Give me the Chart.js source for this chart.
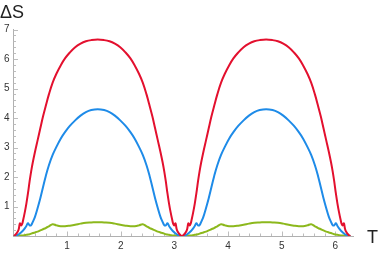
<!DOCTYPE html>
<html><head><meta charset="utf-8">
<script src="https://cdn.jsdelivr.net/npm/chart.js@4.4.1/dist/chart.umd.min.js"></script>
<style>html,body{margin:0;padding:0;background:#fff}#wrap{width:380px;height:254px}</style>
</head><body>
<div id="wrap"><canvas id="c"></canvas></div>
<script>
// valores (T de 0 a 2π)
const tempo=[0,0.04,0.08,0.10,0.12,0.14,0.16,0.18,0.21,0.24,0.27,0.30,0.33,0.36,0.40,0.45,0.50,0.55,0.60,0.66,0.73,0.80,0.88,0.96,1.05,1.15,1.25,1.35,1.45,1.57,
  1.69,1.79,1.89,1.99,2.09,2.18,2.26,2.34,2.41,2.48,2.54,2.59,2.64,2.69,2.74,2.78,2.81,2.84,2.87,2.90,2.93,2.96,2.98,3.00,3.02,3.04,3.06,3.10,3.14,
  3.18,3.22,3.24,3.26,3.28,3.30,3.32,3.35,3.38,3.41,3.44,3.47,3.50,3.54,3.59,3.64,3.69,3.74,3.80,3.87,3.94,4.02,4.10,4.19,4.29,4.39,4.49,4.59,4.71,
  4.83,4.93,5.03,5.13,5.23,5.32,5.40,5.48,5.55,5.62,5.68,5.73,5.78,5.83,5.88,5.92,5.95,5.98,6.01,6.04,6.07,6.10,6.12,6.14,6.16,6.18,6.20,6.24,6.28];
const vermelho=[0,0.05,0.15,0.25,0.43,0.36,0.40,0.54,0.80,1.10,1.45,1.85,2.20,2.50,2.85,3.25,3.65,4.05,4.40,4.80,5.20,5.50,5.78,6.02,6.22,6.40,6.52,6.60,6.64,6.66,
  6.64,6.60,6.52,6.40,6.22,6.02,5.78,5.50,5.20,4.80,4.40,4.05,3.65,3.25,2.85,2.50,2.20,1.85,1.45,1.10,0.80,0.54,0.40,0.36,0.43,0.25,0.15,0.05,0,
  0.05,0.15,0.25,0.43,0.36,0.40,0.54,0.80,1.10,1.45,1.85,2.20,2.50,2.85,3.25,3.65,4.05,4.40,4.80,5.20,5.50,5.78,6.02,6.22,6.40,6.52,6.60,6.64,6.66,
  6.64,6.60,6.52,6.40,6.22,6.02,5.78,5.50,5.20,4.80,4.40,4.05,3.65,3.25,2.85,2.50,2.20,1.85,1.45,1.10,0.80,0.54,0.40,0.36,0.43,0.25,0.15,0.05,0];
const azul=[0,0.01,0.04,0.06,0.09,0.12,0.15,0.19,0.26,0.34,0.43,0.36,0.37,0.48,0.65,0.95,1.28,1.65,2.02,2.40,2.75,3.02,3.30,3.52,3.73,3.92,4.08,4.20,4.27,4.30,
  4.27,4.20,4.08,3.92,3.73,3.52,3.30,3.02,2.75,2.40,2.02,1.65,1.28,0.95,0.65,0.48,0.37,0.36,0.43,0.34,0.26,0.19,0.15,0.12,0.09,0.06,0.04,0.01,0,
  0.01,0.04,0.06,0.09,0.12,0.15,0.19,0.26,0.34,0.43,0.36,0.37,0.48,0.65,0.95,1.28,1.65,2.02,2.40,2.75,3.02,3.30,3.52,3.73,3.92,4.08,4.20,4.27,4.30,
  4.27,4.20,4.08,3.92,3.73,3.52,3.30,3.02,2.75,2.40,2.02,1.65,1.28,0.95,0.65,0.48,0.37,0.36,0.43,0.34,0.26,0.19,0.15,0.12,0.09,0.06,0.04,0.01,0];
const verde=[0,0,0.01,0.01,0.01,0.02,0.02,0.02,0.03,0.04,0.05,0.06,0.08,0.10,0.12,0.15,0.19,0.23,0.27,0.33,0.40,0.36,0.33,0.33,0.35,0.38,0.42,0.45,0.46,0.47,
  0.46,0.45,0.42,0.38,0.35,0.33,0.33,0.36,0.40,0.33,0.27,0.23,0.19,0.15,0.12,0.10,0.08,0.06,0.05,0.04,0.03,0.02,0.02,0.02,0.01,0.01,0.01,0,0,
  0,0.01,0.01,0.01,0.02,0.02,0.02,0.03,0.04,0.05,0.06,0.08,0.10,0.12,0.15,0.19,0.23,0.27,0.33,0.40,0.36,0.33,0.33,0.35,0.38,0.42,0.45,0.46,0.47,
  0.46,0.45,0.42,0.38,0.35,0.33,0.33,0.36,0.40,0.33,0.27,0.23,0.19,0.15,0.12,0.10,0.08,0.06,0.05,0.04,0.03,0.02,0.02,0.02,0.01,0.01,0.01,0,0];
const ticksX=[1,2,3,4,5,6];
const ticksY=[1,2,3,4,5,6,7];

const FONTE="'Liberation Sans', Arial, sans-serif";
const pts=arr=>tempo.map((t,i)=>({x:t,y:arr[i]}));
const serie=(arr,cor)=>({data:pts(arr),borderColor:cor,borderWidth:2,pointRadius:0,fill:false,tension:0.4});

// marcas e rótulos dos eixos, estilo Mathematica (marcas para dentro)
const marcas={id:'marcas',
  beforeDatasetsDraw(c){
    const x=c.scales.x,y=c.scales.y,g=c.ctx;
    const x0=x.getPixelForValue(0),y0=y.getPixelForValue(0);
    g.save();g.strokeStyle='#bdbdbd';g.lineWidth=1;
    for(let i=1;i<=31;i++){const px=Math.round(x.getPixelForValue(i/5))+.5,L=i%5?2.5:4.5;
      g.beginPath();g.moveTo(px,y0);g.lineTo(px,y0-L);g.stroke();}
    for(let i=1;i<=35;i++){const py=Math.round(y.getPixelForValue(i/5))+.5,L=i%5?2.5:4.5;
      g.beginPath();g.moveTo(x0,py);g.lineTo(x0+L,py);g.stroke();}
    g.fillStyle='#333';g.font='10px '+FONTE;
    g.textAlign='center';g.textBaseline='middle';
    ticksX.forEach(v=>g.fillText(String(v),x.getPixelForValue(v),246));
    g.textAlign='right';
    ticksY.forEach(v=>g.fillText(String(v),9.5,y.getPixelForValue(v)));
    g.restore();
  },
  afterDraw(c){
    const g=c.ctx;g.save();g.fillStyle='#222';g.font='18px '+FONTE;g.textBaseline='alphabetic';g.textAlign='left';
    g.fillText('ΔS',0,18);g.fillText('T',367,243);g.restore();
  }};

new Chart(document.getElementById('c'),{type:'line',
  data:{datasets:[serie(vermelho,'#E3102E'),serie(azul,'#1E8BE8'),serie(verde,'#8CB81C')]},
  options:{responsive:true,maintainAspectRatio:false,animation:false,
    layout:{padding:{left:0,top:29.5,right:27,bottom:0}},
    plugins:{legend:{display:false},tooltip:{enabled:false}},
    scales:{
      x:{type:'linear',min:0,max:6.33,
        afterFit:s=>{s.height=18;},
        grid:{display:false},border:{display:true,color:'#b0b0b0'},
        ticks:{display:false}},
      y:{min:0,max:7,
        afterFit:s=>{s.width=13.5;},
        grid:{display:false},border:{display:true,color:'#b0b0b0'},
        ticks:{display:false}}
    }},
  plugins:[marcas]});
</script>
</body></html>
